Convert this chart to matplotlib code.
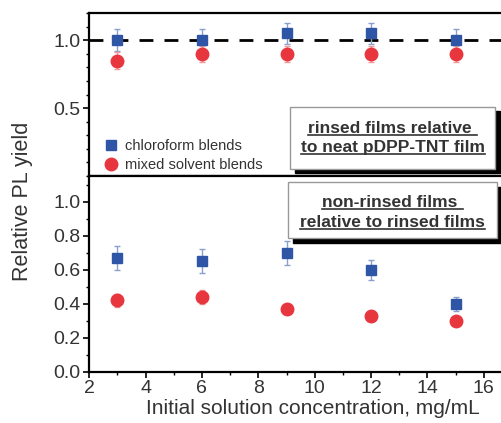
import matplotlib
matplotlib.use('Agg')
import matplotlib.pyplot as plt
from matplotlib.patches import Rectangle
from matplotlib.lines import Line2D
from matplotlib.ticker import MultipleLocator

plt.rcParams['font.family'] = ['Liberation Sans', 'DejaVu Sans']

conc = [3, 6, 9, 12, 15]

# rinsed films relative to neat pDPP-TNT film
top_chloro = [1.0, 1.0, 1.05, 1.05, 1.0]
top_chloro_err = [0.08, 0.08, 0.08, 0.08, 0.08]
top_mixed = [0.85, 0.90, 0.90, 0.90, 0.90]
top_mixed_err = [0.06, 0.06, 0.06, 0.06, 0.06]

# non-rinsed films relative to rinsed films
bot_chloro = [0.67, 0.65, 0.70, 0.60, 0.40]
bot_chloro_err = [0.07, 0.07, 0.07, 0.06, 0.04]
bot_mixed = [0.42, 0.44, 0.37, 0.33, 0.30]
bot_mixed_err = [0.04, 0.04, 0.03, 0.02, 0.02]

blue = '#2f56a6'
red = '#e8363f'
txt = '#333333'

fig = plt.figure(figsize=(5.01, 4.23), dpi=100)
ax_top = fig.add_axes([0.178, 0.584, 0.844, 0.385])
ax_bot = fig.add_axes([0.178, 0.1206, 0.844, 0.463])

def style_axis(ax):
    for s in ax.spines.values():
        s.set_linewidth(1.6)
    ax.tick_params(which='major', direction='out', length=4, width=1.2, labelsize=14,
                   labelcolor=txt, pad=2)
    ax.tick_params(which='minor', direction='out', length=2.5, width=1.0)
    ax.set_xlim(2, 17)
    ax.xaxis.set_major_locator(MultipleLocator(2))
    ax.xaxis.set_minor_locator(MultipleLocator(1))

def draw_series(ax, yc, ec, ym, em):
    ax.errorbar(conc, yc, yerr=ec, fmt='s', color=blue, ms=7, ecolor='#8aa0cc',
                elinewidth=1, capsize=2, zorder=3)
    ax.errorbar(conc, ym, yerr=em, fmt='o', color=red, ms=9, ecolor='#f09a9e',
                elinewidth=1, capsize=2, zorder=3)

def text_box(ax, x0, y0, x1, y1, lines, ycenters):
    shadow = Rectangle((x0 + 0.012, y0 - 0.025), x1 - x0, y1 - y0, transform=ax.transAxes,
                       facecolor='black', edgecolor='black', zorder=4, clip_on=False)
    box = Rectangle((x0, y0), x1 - x0, y1 - y0, transform=ax.transAxes,
                    facecolor='white', edgecolor='#999999', linewidth=1, zorder=5, clip_on=False)
    ax.add_patch(shadow)
    ax.add_patch(box)
    texts = []
    for line, yc in zip(lines, ycenters):
        t = ax.text((x0 + x1) / 2, yc, line, transform=ax.transAxes, ha='center', va='center',
                    fontsize=12.5, fontweight='bold', color=txt, zorder=6)
        texts.append(t)
    return texts

style_axis(ax_top)
style_axis(ax_bot)

draw_series(ax_top, top_chloro, top_chloro_err, top_mixed, top_mixed_err)
ax_top.axhline(1.0, color='black', linestyle=(0, (5, 4)), linewidth=2, zorder=2)
ax_top.set_ylim(0, 1.2)
ax_top.set_yticks([0.5, 1.0])
ax_top.set_yticklabels(['0.5', '1.0'])
ax_top.yaxis.set_minor_locator(MultipleLocator(0.1))
ax_top.tick_params(axis='x', which='both', bottom=False, labelbottom=False)
handles = [Line2D([], [], marker='s', ls='none', color=blue, ms=7.5),
           Line2D([], [], marker='o', ls='none', color=red, ms=9)]
ax_top.legend(handles, ['chloroform blends', 'mixed solvent blends'], loc='lower left',
              frameon=False, fontsize=10.5, handletextpad=0.4, handlelength=1.2,
              borderaxespad=0.2, labelspacing=0.35, bbox_to_anchor=(0.01, -0.03),
              labelcolor=txt)

draw_series(ax_bot, bot_chloro, bot_chloro_err, bot_mixed, bot_mixed_err)
ax_bot.set_ylim(0, 1.15)
ax_bot.yaxis.set_minor_locator(MultipleLocator(0.1))
ax_bot.set_yticks([0.0, 0.2, 0.4, 0.6, 0.8, 1.0])
ax_bot.set_xlabel('Initial solution concentration, mg/mL', fontsize=15, color=txt)
ax_bot.xaxis.set_label_coords(0.53, -0.14)

fig.text(0.045, 0.525, 'Relative PL yield', rotation=90, ha='center', va='center',
         fontsize=15.5, color=txt)

t1 = text_box(ax_top, 0.475, 0.045, 0.96, 0.423,
              ['rinsed films relative ', 'to neat pDPP-TNT film'], [0.294, 0.172])
t2 = text_box(ax_bot, 0.47, 0.684, 0.965, 0.969,
              ['non-rinsed films ', 'relative to rinsed films'], [0.867, 0.765])

# underline the box texts
fig.canvas.draw()
renderer = fig.canvas.get_renderer()
inv = fig.transFigure.inverted()
for t in t1 + t2:
    bb = t.get_window_extent(renderer)
    (xa, ya), (xb, yb) = inv.transform([(bb.x0, bb.y0 + 1), (bb.x1, bb.y0 + 1)])
    fig.add_artist(Line2D([xa, xb], [ya, yb], color=txt, linewidth=1.2, zorder=7))

fig.savefig('out.png', dpi=100)
